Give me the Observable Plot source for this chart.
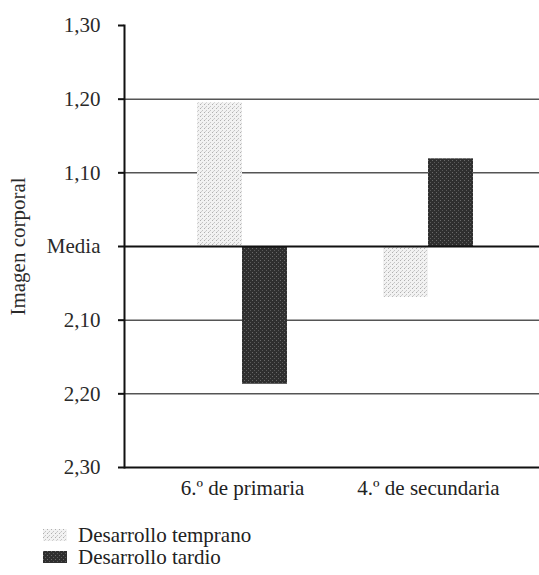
<!DOCTYPE html>
<html><head><meta charset="utf-8">
<script src="https://cdn.jsdelivr.net/npm/d3@7"></script>
<script src="https://cdn.jsdelivr.net/npm/@observablehq/plot@0.6"></script>
<style>
html,body{margin:0;padding:0;background:#fff;overflow:hidden;}
#wrap{width:539px;height:575px;font-family:"Liberation Serif","Times New Roman",Times,"DejaVu Serif",serif;color:#222;}
#legend{margin-top:4px;}
.row{display:flex;align-items:center;height:22px;font-size:21px;}
.row svg{margin-left:43px;margin-right:11px;}
</style></head><body><div id="wrap"><div id="chart"></div><div id="legend"></div></div>
<script>
const groups = ["6.º de primaria", "4.º de secundaria"];
const series = ["Desarrollo temprano", "Desarrollo tardio"];
const temprano = [0.195, -0.069];
const tardio = [-0.187, 0.119];
const tickValues = [0.3, 0.2, 0.1, 0, -0.1, -0.2, -0.3];
const tickLabels = ["1,30", "1,20", "1,10", "Media", "2,10", "2,20", "2,30"];
const gridValues = [0.2, 0.1, -0.1, -0.2];
const yTitle = "Imagen corporal";

const rowsT = groups.map((g, i) => ({group: g, serie: series[0], value: temprano[i]}));
const rowsD = groups.map((g, i) => ({group: g, serie: series[1], value: tardio[i]}));
const labelOf = new Map(tickValues.map((v, i) => [v, tickLabels[i]]));
const half = 45; // half of the group band: each series takes one half
const serifFont = '"Liberation Serif","Times New Roman",Times,"DejaVu Serif",serif';

const plot = Plot.plot({
  width: 539, height: 520,
  marginLeft: 124, marginRight: -7, marginTop: 25, marginBottom: 53,
  style: {fontFamily: serifFont, fontSize: "21px", color: "#222", background: "#fff"},
  x: {domain: groups, paddingInner: 0.516, paddingOuter: 0.3924, label: null, axis: null},
  y: {domain: [-0.3, 0.3], axis: null},
  color: {domain: series, range: ["url(#pTemprano)", "url(#pTardio)"]},
  marks: [
    Plot.ruleY(gridValues, {stroke: "#555", strokeWidth: 1.5}),
    Plot.barY(rowsT, {x: "group", y: "value", fill: "serie", insetRight: half}),
    Plot.barY(rowsD, {x: "group", y: "value", fill: "serie", insetLeft: half}),
    Plot.ruleY([0], {stroke: "#111", strokeWidth: 2}),
    Plot.ruleY([-0.3], {stroke: "#111", strokeWidth: 2}),
    Plot.frame({anchor: "left", stroke: "#111", strokeWidth: 2}),
    Plot.axisY({ticks: tickValues, tickFormat: d => labelOf.get(d), tickSize: 6, tickPadding: 18,
      stroke: "#111", strokeWidth: 2, fill: "#2a2a2a",
      label: yTitle, labelAnchor: "center", labelArrow: "none", labelOffset: 114}),
    Plot.axisX({anchor: "bottom", tickSize: 0, tickPadding: 13, label: null, fill: "#222"})
  ]
});
document.getElementById("chart").appendChild(plot);

const svg = d3.select(plot.tagName === "svg" ? plot : plot.querySelector("svg"));
svg.style("font-family", serifFont);
const defs = svg.insert("defs", ":first-child");
const p1 = defs.append("pattern").attr("id", "pTemprano").attr("patternUnits", "userSpaceOnUse").attr("width", 4).attr("height", 4);
p1.append("rect").attr("width", 4).attr("height", 4).attr("fill", "#f2f2f2");
p1.append("rect").attr("x", 0).attr("y", 0).attr("width", 1).attr("height", 1).attr("fill", "#b0b0b0");
p1.append("rect").attr("x", 2).attr("y", 2).attr("width", 1).attr("height", 1).attr("fill", "#c4c4c4");
p1.append("rect").attr("x", 1).attr("y", 3).attr("width", 1).attr("height", 1).attr("fill", "#d0d0d0");
const p2 = defs.append("pattern").attr("id", "pTardio").attr("patternUnits", "userSpaceOnUse").attr("width", 4).attr("height", 4);
p2.append("rect").attr("width", 4).attr("height", 4).attr("fill", "#2f2f2f");
p2.append("rect").attr("x", 0).attr("y", 0).attr("width", 1).attr("height", 1).attr("fill", "#6a6a6a");
p2.append("rect").attr("x", 2).attr("y", 2).attr("width", 1).attr("height", 1).attr("fill", "#5a5a5a");

const legend = d3.select("#legend");
series.forEach((s, i) => {
  const row = legend.append("div").attr("class", "row");
  const sw = row.append("svg").attr("width", 24).attr("height", 12);
  sw.append("rect").attr("width", 24).attr("height", 12).attr("fill", i === 0 ? "url(#pTemprano)" : "url(#pTardio)");
  row.append("span").text(s);
});
</script></body></html>
